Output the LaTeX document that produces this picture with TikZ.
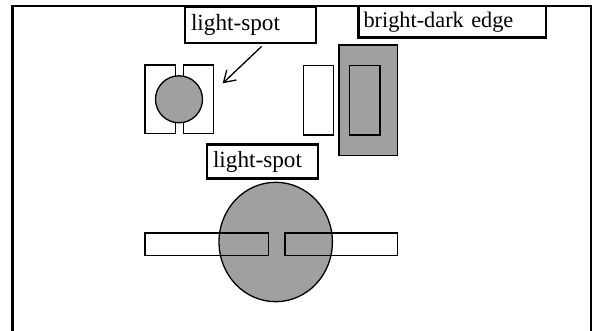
\documentclass[tikz,border=0pt]{standalone}
\usepackage{fontspec}
\setmainfont{Liberation Serif}
\usetikzlibrary{arrows.meta}
\definecolor{spot}{RGB}{160,160,160}
\begin{document}
\begin{tikzpicture}[x=1pt,y=-1pt,
  lbl/.style={draw, line width=2.7pt, align=left, inner ysep=0pt,
    font=\fontsize{23.2}{27}\selectfont},
  shp/.style={draw, line width=1.3pt},
  frame/.style={draw, line width=2.8pt},
]
\useasboundingbox (0,0) rectangle (595,331);
% outer frame (open at the bottom)
\draw[frame] (12.5,331) -- (12.5,6) -- (591,6) -- (591,331);
% small slits with spot
\draw[shp, fill=white] (145,65) rectangle (175.7,133.3);
\draw[shp, fill=white] (183.3,65) rectangle (213.3,133.3);
\draw[shp, fill=spot] (179,99.3) circle (23.5);
% bright-dark edge group
\draw[shp, fill=white] (303.3,65.7) rectangle (333.3,135);
\draw[shp, fill=spot] (339,45) rectangle (397.7,155.7);
\draw[shp] (349.3,65.7) rectangle (380,135);
% bottom bars with big spot
\draw[shp, fill=white] (145,233) rectangle (268.3,255.7);
\draw[shp, fill=white] (285,233) rectangle (397.7,255.7);
\draw[shp, fill=spot] (275.7,242) ellipse [x radius=56.7, y radius=59.7];
\draw[shp] (145,233) rectangle (268.3,255.7);
\draw[shp] (285,233) rectangle (397.7,255.7);
% labels
\node[lbl, fill=white, text width=119pt, inner xsep=6pt, minimum height=36pt] (b1) at (250.5,25) {light-spot};
\node[lbl, fill=white, font=\fontsize{22.3}{27}\selectfont, text width=177.5pt, inner xsep=5pt, minimum height=31.5pt] (b2) at (452.25,21.75) {bright-dark edge};
\node[lbl, fill=white, text width=99pt, inner xsep=6pt, minimum height=34.5pt] (b3) at (262.5,161.5) {light-spot};
% arrow
\coordinate (tip) at (222.7,83.3);
\draw[line width=1.3pt, -{Straight Barb[length=11pt,width=14pt]}] ([xshift=11.2pt,yshift=-2pt]b1.south) -- (tip);
\end{tikzpicture}
\end{document}
